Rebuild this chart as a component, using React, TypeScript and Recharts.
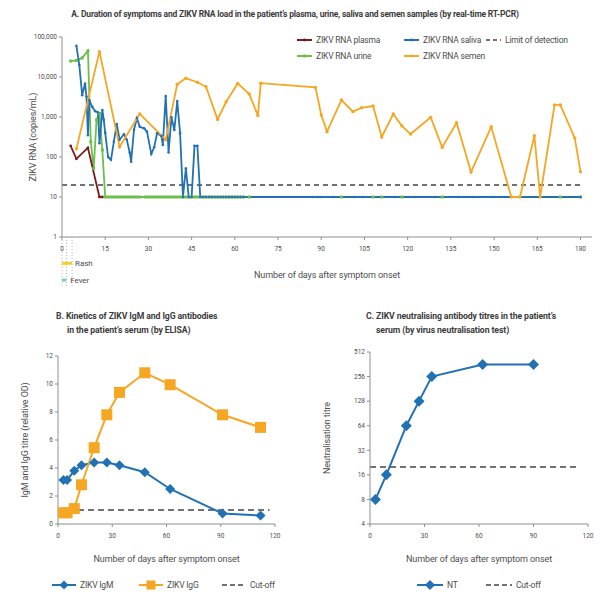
import React from 'react';
import { LineChart, Line, XAxis, YAxis, ReferenceLine, ReferenceDot, Legend } from 'recharts';

// A. RT-PCR, copies/mL by day after symptom onset (10 = not detected)
const plasma: [number, number][] = [[3, 190], [5, 90], [9, 170], [13, 10], [14, 10]];

const urine: [number, number][] = [
  [3, 25000], [5, 26000], [7, 30000], [9, 45000], [10, 240], [11, 52], [12, 850], [13, 1230], [14, 150],
  [15, 10], [16, 10], [17, 10], [18, 10], [19, 10], [20, 10], [21, 10], [22, 10], [23, 10], [24, 10],
  [25, 10], [26, 10], [27, 10], [29, 10], [30, 10], [31, 10], [32, 10], [33, 10], [34, 10], [35, 10],
  [36, 10], [37, 10], [38, 10], [39, 10], [40, 10], [41, 10], [42, 10], [43, 10], [44, 10], [45, 10],
  [46, 10], [47, 10], [48, 10], [49, 10], [50, 10], [51, 10], [52, 10], [53, 10], [54, 10], [55, 10],
  [56, 10], [57, 10], [58, 10], [59, 10], [60, 10], [61, 10], [62, 10], [63, 10], [65, 10],
  [97, 10], [108, 10], [111, 10], [118, 10], [132, 10], [173, 10], [180, 10],
];

const saliva: [number, number][] = [
  [5, 60000], [6, 20000], [7, 3500], [8, 6900], [8.5, 3200], [9, 350], [9.5, 2600], [10.5, 1800],
  [11.5, 1400], [12.5, 1300], [13, 220], [14, 1500], [14.5, 850], [15, 400], [16, 100], [17, 85],
  [18, 240], [19, 670], [20, 270], [21.5, 370], [22.5, 270], [23.5, 130], [24, 76], [25, 480],
  [26, 930], [27, 570], [28.5, 520], [29.5, 430], [31, 120], [32, 175], [33, 390], [34.5, 335],
  [35, 200], [36, 3350], [37, 130], [38, 980], [39, 475], [40, 2500], [41, 390], [42, 10], [43, 52],
  [44, 10], [45, 10], [46, 190], [47, 190], [48, 10], [49, 10], [50, 10], [51, 10], [52, 10],
  [53, 10], [54, 10], [55, 10], [56, 10], [57, 10], [58, 10], [59, 10], [60, 10], [61, 10], [62, 10],
  [63, 10], [87, 10], [88.5, 10], [90, 10], [94, 10], [101.5, 10], [104.5, 10], [115.5, 10],
  [122.5, 10], [129.5, 10], [137.5, 10], [142.5, 10], [149.5, 10], [180, 10],
];

const semen: [number, number][] = [
  [5, 160], [13, 43000], [20, 180], [27, 1200], [36, 270], [40, 6600], [43, 9300], [47, 7400],
  [50, 5700], [54, 870], [57, 2400], [61, 6900], [65, 3750], [68, 1080], [69, 7000], [88, 5500],
  [90, 1120], [92, 430], [97, 2660], [101, 1360], [104, 1700], [108, 1880], [111, 316], [115, 1190],
  [118, 600], [121, 375], [128, 980], [132, 175], [137, 720], [142, 42], [149, 570], [156, 10],
  [159, 10], [164, 340], [166, 10], [171, 2000], [173, 2000], [178, 300], [180, 43],
];

const detectionLimit = 20;
const limitSpan = [0, 180];
const dayTicksA = [0, 15, 30, 45, 60, 75, 90, 105, 120, 135, 150, 165, 180];
const copiesTicks = [1, 10, 100, 1000, 10000, 100000];
const symptomDays = [0, 1.5, 3.5];
const rashDays = [0, 3.5];
const feverDays = [0, 1.5];

// B. ELISA, relative OD
const elisaDays = [3, 5, 9, 13, 20, 27, 34, 48, 62, 91, 112];
const igm = [3.15, 3.15, 3.8, 4.2, 4.4, 4.4, 4.2, 3.7, 2.5, 0.75, 0.6];
const igg = [0.8, 0.8, 1.1, 2.8, 5.45, 7.8, 9.4, 10.8, 9.95, 7.8, 6.9];
const elisaCutoff = 1;
const elisaCutoffSpan = [0, 117];
const odTicks = [0, 2, 4, 6, 8, 10, 12];
const dayTicksBC = [0, 30, 60, 90, 120];

// C. neutralisation titres
const ntDays = [3, 9, 20, 27, 34, 62, 90];
const ntTitre = [8, 16, 64, 128, 256, 360, 360];
const ntCutoff = 20;
const ntCutoffSpan = [0, 114];
const titreTicks = [4, 8, 16, 32, 64, 128, 256, 512];

const FONT = 'Roboto, sans-serif';
const TEXT = '#4d4d4d';
const AXIS = '#8f8f8f';
const RED = '#7a1d1d';
const GREEN = '#6dbf4b';
const BLUE = '#2271b3';
const ORANGE = '#f5a623';
const DASH = '#444';

type Mark = 'circle' | 'square' | 'diamond';

const shape = (kind: Mark, s: number, cx: number, cy: number, color: string, key?: React.Key) => {
  if (kind === 'circle') return <circle key={key} cx={cx} cy={cy} r={s} fill={color} />;
  if (kind === 'square') return <rect key={key} x={cx - s} y={cy - s} width={s * 2} height={s * 2} fill={color} />;
  return <path key={key} d={`M${cx} ${cy - s}L${cx + s} ${cy}L${cx} ${cy + s}L${cx - s} ${cy}Z`} fill={color} />;
};

const dot = (kind: Mark, s: number, color: string) => (p: any) => {
  if (p.cx == null || p.cy == null) return <g key={p.index} />;
  return shape(kind, s, p.cx, p.cy, color, p.index);
};

type Item = { label: string; color: string; dashed?: boolean; mark?: Mark };

function LegendBox({ items, icon, markSize, grid }: { items: Item[]; icon: number; markSize: number; grid: React.CSSProperties }) {
  return (
    <div style={{ display: 'grid', fontFamily: FONT, fontSize: 8.5, letterSpacing: -0.2, color: TEXT, ...grid }}>
      {items.map((it) => (
        <div key={it.label} style={{ display: 'flex', alignItems: 'center', whiteSpace: 'nowrap' }}>
          <svg width={icon} height={14} style={{ marginRight: 4, flex: 'none' }}>
            <line x1={0} y1={7} x2={icon} y2={7} stroke={it.color} strokeWidth={it.dashed ? 1.6 : 2}
              strokeDasharray={it.dashed ? (icon > 16 ? '5 3' : '4 3') : undefined} />
            {it.mark && shape(it.mark, markSize, icon / 2, 7, it.color)}
          </svg>
          <span>{it.label}</span>
        </div>
      ))}
    </div>
  );
}

const rows = (pts: [number, number][]) => pts.map(([day, copies]) => ({ day, copies }));
const tick = { fill: TEXT, fontSize: 6.5, fontFamily: FONT };
const titleStyle: React.CSSProperties = {
  position: 'absolute', fontFamily: FONT, fontWeight: 700, fontSize: 8.7, letterSpacing: -0.1,
  color: '#3c3c3c', lineHeight: '14px', whiteSpace: 'nowrap',
};
const axisLabel = { fill: TEXT, fontSize: 9, fontFamily: FONT, letterSpacing: -0.1 };

export default function App() {
  const elisaRows = elisaDays.map((day, i) => ({ day, igm: igm[i], igg: igg[i] }));
  const ntRows = ntDays.map((day, i) => ({ day, nt: ntTitre[i] }));

  return (
    <div style={{ position: 'absolute', left: 0, top: 0, width: 600, height: 598, background: '#fff', overflow: 'hidden' }}>
      <div style={{ ...titleStyle, fontSize: 8.5, letterSpacing: -0.2, left: 0, width: 590, top: 7, textAlign: 'center' }}>
        A. Duration of symptoms and ZIKV RNA load in the patient’s plasma, urine, saliva and semen samples (by real-time RT-PCR)
      </div>
      <LineChart width={600} height={300} margin={{ top: 37, right: 8, bottom: 0, left: 0 }}
        style={{ position: 'absolute', left: 0, top: 0 }}>
        <XAxis type="number" dataKey="day" domain={[0, 184]} ticks={dayTicksA} height={63} stroke={AXIS}
          tick={tick} tickSize={3} tickMargin={6} allowDuplicatedCategory={false}
          label={{ value: 'Number of days after symptom onset', position: 'insideBottom', offset: 22, ...axisLabel }} />
        <YAxis type="number" scale="log" domain={[1, 100000]} ticks={copiesTicks} width={62} stroke={AXIS}
          tick={tick} tickSize={3} tickFormatter={(v: number) => v.toLocaleString('en-US')}
          label={{ value: 'ZIKV RNA (copies/mL)', angle: -90, position: 'insideLeft', offset: 33, style: { textAnchor: 'middle' }, ...axisLabel }} />
        {symptomDays.map((d) => (
          <ReferenceLine key={`s${d}`} segment={[{ x: d, y: 1 }, { x: d, y: 0.06 }]} stroke="#b5b5b5"
            strokeDasharray="1 2" ifOverflow="visible" />
        ))}
        <ReferenceLine segment={[{ x: rashDays[0], y: 0.22 }, { x: rashDays[1], y: 0.22 }]} stroke="#f3d12a" strokeWidth={3} ifOverflow="visible" />
        <ReferenceLine segment={[{ x: feverDays[0], y: 0.084 }, { x: feverDays[1], y: 0.084 }]} stroke="#7cc6d6" strokeWidth={3} ifOverflow="visible" />
        <ReferenceDot x={rashDays[1]} y={0.22} r={1} fill="none" stroke="none" ifOverflow="visible"
          label={{ value: 'Rash', position: 'right', offset: 2, ...axisLabel, fontSize: 8 }} />
        <ReferenceDot x={feverDays[1]} y={0.084} r={1} fill="none" stroke="none" ifOverflow="visible"
          label={{ value: 'Fever', position: 'right', offset: 3, ...axisLabel, fontSize: 8 }} />
        <Line data={limitSpan.map((day) => ({ day, copies: detectionLimit }))} dataKey="copies" name="Limit of detection"
          stroke={DASH} strokeWidth={1.5} strokeDasharray="5 4" dot={false} isAnimationActive={false} />
        <Line data={rows(urine)} dataKey="copies" name="ZIKV RNA urine" stroke={GREEN} strokeWidth={1.8}
          dot={dot('square', 1.5, GREEN)} isAnimationActive={false} />
        <Line data={rows(plasma)} dataKey="copies" name="ZIKV RNA plasma" stroke={RED} strokeWidth={1.8}
          dot={dot('circle', 1.4, RED)} isAnimationActive={false} />
        <Line data={rows(saliva)} dataKey="copies" name="ZIKV RNA saliva" stroke={BLUE} strokeWidth={1.8}
          dot={dot('circle', 1.3, BLUE)} isAnimationActive={false} />
        <Line data={rows(semen)} dataKey="copies" name="ZIKV RNA semen" stroke={ORANGE} strokeWidth={1.8}
          dot={dot('circle', 1.7, ORANGE)} isAnimationActive={false} />
        <Legend layout="horizontal" verticalAlign="middle"
          wrapperStyle={{ position: 'absolute', top: 32, left: 297, width: 300, height: 34 }}
          content={() => (
            <LegendBox icon={15} markSize={1.4}
              grid={{ gridTemplateColumns: '107px 82px auto', gridTemplateRows: '16px 16px', gridAutoFlow: 'column' }}
              items={[
                { label: 'ZIKV RNA plasma', color: RED, mark: 'circle' },
                { label: 'ZIKV RNA urine', color: GREEN, mark: 'square' },
                { label: 'ZIKV RNA saliva', color: BLUE, mark: 'circle' },
                { label: 'ZIKV RNA semen', color: ORANGE, mark: 'circle' },
                { label: 'Limit of detection', color: DASH, dashed: true },
              ]} />
          )} />
      </LineChart>

      <div style={{ ...titleStyle, left: 56, top: 309 }}>
        B. Kinetics of ZIKV IgM and IgG antibodies<br />
        <span style={{ paddingLeft: 11 }}>in the patient’s serum (by ELISA)</span>
      </div>
      <LineChart width={300} height={298} data={elisaRows} margin={{ top: 56, right: 25, bottom: 0, left: 0 }}
        style={{ position: 'absolute', left: 0, top: 300 }}>
        <XAxis type="number" dataKey="day" domain={[0, 120]} ticks={dayTicksBC} height={74} stroke={AXIS}
          tick={tick} tickSize={3} tickMargin={6}
          label={{ value: 'Number of days after symptom onset', position: 'insideBottom', offset: 36, ...axisLabel }} />
        <YAxis type="number" domain={[0, 12]} ticks={odTicks} width={58} stroke={AXIS} tick={tick} tickSize={3}
          label={{ value: 'IgM and IgG titre (relative OD)', angle: -90, position: 'insideLeft', offset: 25, style: { textAnchor: 'middle' }, ...axisLabel }} />
        <Line data={elisaCutoffSpan.map((day) => ({ day, cut: elisaCutoff }))} dataKey="cut" name="Cut-off"
          stroke={DASH} strokeWidth={1.6} strokeDasharray="6 4" dot={false} isAnimationActive={false} />
        <Line dataKey="igm" name="ZIKV IgM" stroke={BLUE} strokeWidth={2} dot={dot('diamond', 5, BLUE)} isAnimationActive={false} />
        <Line dataKey="igg" name="ZIKV IgG" stroke={ORANGE} strokeWidth={2} dot={dot('square', 5.5, ORANGE)} isAnimationActive={false} />
        <Legend layout="horizontal" verticalAlign="middle"
          wrapperStyle={{ position: 'absolute', top: 278, left: 52, width: 240, height: 16 }}
          content={() => (
            <LegendBox icon={24} markSize={4.5}
              grid={{ gridTemplateColumns: '87px 83px auto' }}
              items={[
                { label: 'ZIKV IgM', color: BLUE, mark: 'diamond' },
                { label: 'ZIKV IgG', color: ORANGE, mark: 'square' },
                { label: 'Cut-off', color: DASH, dashed: true },
              ]} />
          )} />
      </LineChart>

      <div style={{ ...titleStyle, left: 366, top: 309 }}>
        C. ZIKV neutralising antibody titres in the patient’s<br />
        <span style={{ paddingLeft: 10 }}>serum (by virus neutralisation test)</span>
      </div>
      <LineChart width={300} height={298} data={ntRows} margin={{ top: 52, right: 12, bottom: 0, left: 0 }}
        style={{ position: 'absolute', left: 300, top: 300 }}>
        <XAxis type="number" dataKey="day" domain={[0, 120]} ticks={dayTicksBC} height={74} stroke={AXIS}
          tick={tick} tickSize={3} tickMargin={6}
          label={{ value: 'Number of days after symptom onset', position: 'insideBottom', offset: 36, ...axisLabel }} />
        <YAxis type="number" scale="log" domain={[4, 512]} ticks={titreTicks} width={70} stroke={AXIS} tick={tick} tickSize={3}
          label={{ value: 'Neutralisation titre', angle: -90, position: 'insideLeft', offset: 27, style: { textAnchor: 'middle' }, ...axisLabel }} />
        <Line data={ntCutoffSpan.map((day) => ({ day, nt: ntCutoff }))} dataKey="nt" name="Cut-off"
          stroke={DASH} strokeWidth={1.6} strokeDasharray="6 4" dot={false} isAnimationActive={false} />
        <Line dataKey="nt" name="NT" stroke={BLUE} strokeWidth={2} dot={dot('diamond', 5.5, BLUE)} isAnimationActive={false} />
        <Legend layout="horizontal" verticalAlign="middle"
          wrapperStyle={{ position: 'absolute', top: 278, left: 117, width: 180, height: 16 }}
          content={() => (
            <LegendBox icon={26} markSize={5}
              grid={{ gridTemplateColumns: '69px auto' }}
              items={[
                { label: 'NT', color: BLUE, mark: 'diamond' },
                { label: 'Cut-off', color: DASH, dashed: true },
              ]} />
          )} />
      </LineChart>
    </div>
  );
}
